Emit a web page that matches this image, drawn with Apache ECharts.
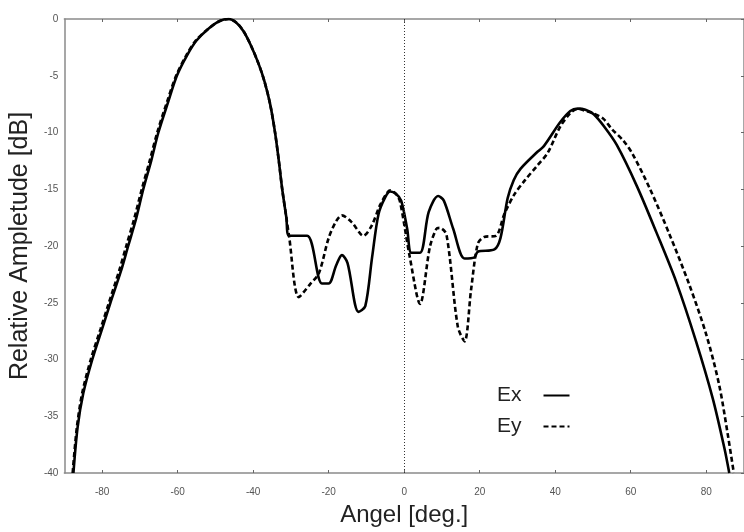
<!DOCTYPE html>
<html>
<head>
<meta charset="utf-8">
<script src="https://cdn.jsdelivr.net/npm/echarts@6/dist/echarts.min.js"></script>
<style>html,body{margin:0;padding:0;background:#fff}#c{width:744px;height:532px}</style>
</head>
<body>
<div id="c"></div>
<script>
// Angle [deg], relative amplitude [dB]
var exData = [[-87.6,-40],[-86.5,-36],[-85,-33],[-82.6,-30],[-80,-27.3],[-77.8,-25],[-75,-22.2],[-73.1,-20],[-71,-17.6],[-69.1,-15],[-67,-12.5],[-65.1,-10],[-62.5,-7.3],[-60.2,-5],[-57.5,-3.2],[-55,-1.9],[-52,-0.9],[-49,-0.2],[-46.5,0],[-44.5,-0.3],[-42.5,-1.1],[-40.5,-2.4],[-38.5,-4],[-37,-5.5],[-35.5,-7.5],[-34.2,-10],[-33.2,-12.5],[-32.3,-15],[-31.2,-17.5],[-30.5,-19.1],[-25.7,-19.1],[-21.8,-23.3],[-20,-23.3],[-18,-21.7],[-16.5,-20.8],[-15,-21.5],[-12.1,-25.8],[-10.3,-25.3],[-8.5,-21],[-6.8,-17.2],[-5,-15.7],[-3.7,-15.2],[-2.2,-15.4],[-0.8,-16],[0.8,-18.5],[1.9,-20.6],[4.2,-20.6],[6.5,-17],[9,-15.6],[10.5,-16],[13,-18.5],[16,-21.1],[18.6,-21],[19.5,-20.5],[23.9,-20.3],[25.5,-19.3],[27.4,-15.8],[29,-14.2],[30.8,-13.2],[35.3,-11.7],[37,-11.2],[41.3,-9.1],[44,-8.1],[46,-7.9],[48,-8.0],[50.2,-8.4],[53,-9.5],[56.3,-11.1],[61.6,-14.7],[66.8,-18.8],[72.1,-23.2],[77.3,-28.4],[81.7,-33.4],[84.8,-37.8],[86.1,-40]];
var eyData = [[-87.8,-40],[-86.7,-36],[-85.3,-33],[-83,-30],[-80.4,-27.3],[-78.2,-25],[-75.5,-22.2],[-73.6,-20],[-71.5,-17.6],[-69.5,-15],[-67.4,-12.5],[-65.4,-10],[-62.8,-7.3],[-60.4,-5],[-57.7,-3.2],[-55.2,-1.9],[-52,-0.9],[-49,-0.2],[-46.5,0],[-44.5,-0.3],[-42.5,-1.1],[-40.5,-2.4],[-38.5,-4],[-37,-5.5],[-35.5,-7.5],[-34.2,-10],[-33.2,-12.5],[-32.3,-15],[-31.2,-17.5],[-30.5,-19.1],[-27.9,-24.5],[-25,-23.4],[-22.6,-22.4],[-20,-19.3],[-18,-17.8],[-16.5,-17.3],[-13.9,-17.9],[-10.8,-19.1],[-8.6,-18.2],[-6.4,-16.4],[-4.5,-15.3],[-3.7,-15.1],[-2.2,-15.4],[-1.1,-16.1],[1.5,-21],[4.2,-25.1],[6.8,-20.1],[8.5,-18.5],[9.4,-18.4],[11.2,-19],[14.2,-27.1],[16,-28.4],[17.7,-23.9],[19.5,-19.8],[21.2,-19.2],[24.3,-19.1],[26.5,-17.2],[29.1,-15.5],[32,-14.2],[35.3,-12.9],[38,-11.8],[41.3,-9.5],[44,-8.3],[46,-7.9],[48,-8.1],[50,-8.3],[52.8,-8.8],[55,-9.7],[58,-10.7],[60.5,-11.9],[65,-14.9],[70.3,-19],[75.5,-23.4],[80,-27.8],[83.4,-32.2],[85.7,-36.6],[87.3,-40]];
var xTicks = [-80,-60,-40,-20,0,20,40,60,80];
var yTicks = [0,-5,-10,-15,-20,-25,-30,-35,-40];
var seriesNames = ['Ex','Ey'];

var chart = echarts.init(document.getElementById('c'), null, {renderer:'canvas'});
var axisLine = {show:true, onZero:false, lineStyle:{color:'#8a8a8a', width:1.5}};
var xInTick = {show:true, inside:true, length:3, customValues:xTicks, lineStyle:{color:'#666', width:1}};
var yInTick = {show:true, inside:true, length:3, customValues:yTicks, lineStyle:{color:'#666', width:1}};
var font = 'Liberation Sans, Arial, sans-serif';
chart.setOption({
  animation:false,
  backgroundColor:'#fff',
  grid:{left:64, top:19, width:684, height:461, containLabel:false},
  legend:{
    data:seriesNames, orient:'vertical', align:'right', left:492, top:380,
    itemWidth:26, itemHeight:10, itemGap:10,
    itemStyle:{opacity:0},
    textStyle:{fontFamily:font, fontSize:21, color:'#222', padding:[0,17,0,0]}
  },
  xAxis:[{
    type:'value', min:-90, max:90,
    name:'Angel [deg.]', nameLocation:'middle', nameGap:30,
    nameTextStyle:{fontFamily:font, fontSize:24, color:'#222'},
    axisLine:axisLine, axisTick:xInTick, splitLine:{show:false},
    axisLabel:{fontFamily:font, fontSize:10, color:'#555', margin:14, customValues:xTicks}
  },{
    type:'value', position:'top', min:-90, max:90,
    axisLine:axisLine, axisTick:xInTick, axisLabel:{show:false}, splitLine:{show:false}
  }],
  yAxis:[{
    type:'value', min:-40, max:0, interval:5,
    name:'Relative Ampletude [dB]', nameLocation:'middle', nameGap:28, nameRotate:90,
    nameTextStyle:{fontFamily:font, fontSize:25, color:'#222'},
    axisLine:axisLine, axisTick:{show:false}, splitLine:{show:false},
    axisLabel:{fontFamily:font, fontSize:10, color:'#555', margin:6, customValues:yTicks}
  },{
    type:'value', position:'right', min:-40, max:0, interval:5,
    axisLine:axisLine, axisTick:yInTick, axisLabel:{show:false}, splitLine:{show:false}
  }],
  series:[{
    name:seriesNames[0], type:'line', data:exData, symbol:'none', smooth:0.3,
    lineStyle:{color:'#000', width:2.6, type:'solid'}, itemStyle:{color:'#000'},
    markLine:{silent:true, symbol:'none', label:{show:false},
      lineStyle:{color:'#333', width:1, type:[1,2]},
      data:[{xAxis:0}]}
  },{
    name:seriesNames[1], type:'line', data:eyData, symbol:'none', smooth:0.3,
    lineStyle:{color:'#000', width:2.6, type:[5,3]}, itemStyle:{color:'#000'}
  }]
});
</script>
</body>
</html>
